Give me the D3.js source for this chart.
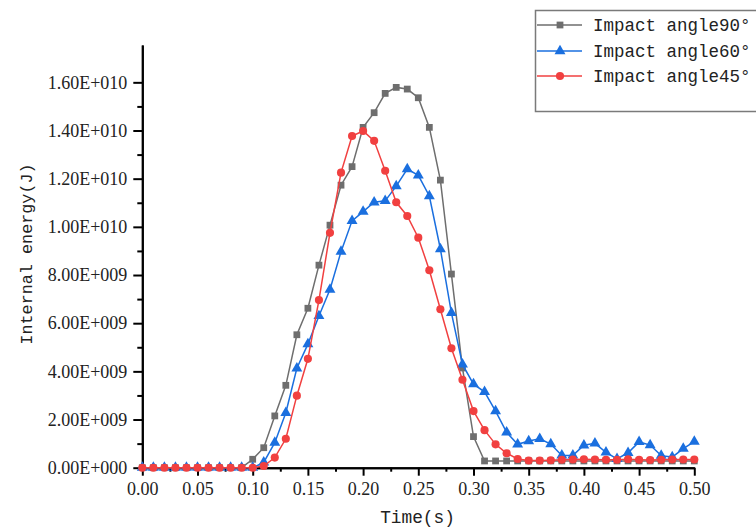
<!DOCTYPE html>
<html>
<head>
<meta charset="utf-8">
<script src="https://cdn.jsdelivr.net/npm/d3@7"></script>
<style>
  body { margin: 0; background: #fff; }
  svg text { font-family: "Liberation Mono", monospace; fill: #222; }
</style>
</head>
<body>
<svg id="chart" width="756" height="531"></svg>
<script>
// time steps 0.00 .. 0.50
var times = d3.range(51).map(i => +(i * 0.01).toFixed(2));

var seriesNames = ["Impact angle90°", "Impact angle60°", "Impact angle45°"];

var angle90 = [0,0,0,0,0,0,0,0,0,0,
  3.5e8, 8.3e8, 2.15e9, 3.42e9, 5.52e9, 6.62e9, 8.41e9, 1.007e10, 1.173e10, 1.25e10,
  1.413e10, 1.474e10, 1.554e10, 1.579e10, 1.572e10, 1.536e10, 1.413e10, 1.194e10, 8.04e9, 4.14e9,
  1.29e9, 2.8e8, 2.8e8, 2.8e8, 2.8e8, 2.8e8, 2.8e8, 2.8e8, 2.8e8, 2.8e8,
  2.8e8, 2.8e8, 2.8e8, 2.8e8, 2.8e8, 2.8e8, 2.8e8, 2.8e8, 2.8e8, 2.8e8, 2.8e8];

var angle60 = [0,0,0,0,0,0,0,0,0,0,0,
  2.2e8, 1.04e9, 2.28e9, 4.13e9, 5.13e9, 6.3e9, 7.4e9, 8.97e9, 1.025e10,
  1.063e10, 1.102e10, 1.108e10, 1.169e10, 1.24e10, 1.214e10, 1.128e10, 9.08e9, 6.43e9, 4.29e9,
  3.47e9, 3.15e9, 2.35e9, 1.47e9, 9.7e8, 1.11e9, 1.2e9, 9.8e8, 5.1e8, 5.1e8,
  9.3e8, 1.01e9, 6.4e8, 3.7e8, 6.2e8, 1.07e9, 9.4e8, 5.0e8, 4.4e8, 7.9e8, 1.08e9];

var angle45 = [0,0,0,0,0,0,0,0,0,0,0,
  7e7, 4.2e8, 1.2e9, 2.99e9, 4.52e9, 6.96e9, 9.75e9, 1.225e10, 1.377e10,
  1.398e10, 1.357e10, 1.233e10, 1.102e10, 1.045e10, 9.55e9, 8.2e9, 6.58e9, 4.96e9, 3.65e9,
  2.35e9, 1.56e9, 9.7e8, 6.0e8, 3.6e8, 3.0e8, 3.0e8, 3.1e8, 3.3e8, 3.4e8,
  3.5e8, 3.4e8, 3.3e8, 3.3e8, 3.5e8, 3.3e8, 3.2e8, 3.3e8, 3.4e8, 3.4e8, 3.4e8];

var xTickValues = [0, 0.05, 0.10, 0.15, 0.20, 0.25, 0.30, 0.35, 0.40, 0.45, 0.50];
var xTickLabels = ["0.00","0.05","0.10","0.15","0.20","0.25","0.30","0.35","0.40","0.45","0.50"];
var yTickValues = [0, 2e9, 4e9, 6e9, 8e9, 1e10, 1.2e10, 1.4e10, 1.6e10];
var yTickLabels = ["0.00E+000","2.00E+009","4.00E+009","6.00E+009","8.00E+009",
  "1.00E+010","1.20E+010","1.40E+010","1.60E+010"];

var colors = ["#6e6e6e", "#1a6fdf", "#f14040"];
var symbols = [d3.symbolSquare, d3.symbolTriangle, d3.symbolCircle];
var symSizes = [46, 52, 52];

var svg = d3.select("#chart");

var x = d3.scaleLinear().domain([0, 0.5]).range([142.3, 694.3]);
var y = d3.scaleLinear().domain([0, 1.755e10]).range([467.7, 45]);

// axes
var xAxis = d3.axisBottom(x).tickValues(xTickValues)
  .tickFormat((d, i) => xTickLabels[i]).tickSize(8).tickPadding(4).tickSizeOuter(0);
var xMinor = d3.axisBottom(x).tickValues(d3.range(0.025, 0.5, 0.05))
  .tickFormat("").tickSize(4).tickSizeOuter(0);
var yAxis = d3.axisLeft(y).tickValues(yTickValues)
  .tickFormat((d, i) => yTickLabels[i]).tickSize(9).tickPadding(6).tickSizeOuter(0);
var yMinor = d3.axisLeft(y).tickValues(d3.range(1e9, 1.6e10, 2e9))
  .tickFormat("").tickSize(5).tickSizeOuter(0);

function styleAxis(g) {
  g.select(".domain").attr("stroke", "#000").attr("stroke-width", 2);
  g.selectAll(".tick line").attr("stroke", "#000").attr("stroke-width", 2);
  g.selectAll(".tick text")
    .style("font-family", "'Liberation Serif', serif")
    .style("font-size", "18px").attr("fill", "#222");
}

var gx = svg.append("g").attr("transform", "translate(0," + y(0) + ")");
gx.call(xAxis).call(styleAxis);
gx.selectAll(".tick text").attr("dy", "0.85em");
svg.append("g").attr("transform", "translate(0," + y(0) + ")").call(xMinor).call(styleAxis);

var gy = svg.append("g").attr("transform", "translate(" + x(0) + ",0)");
gy.call(yAxis).call(styleAxis);
svg.append("g").attr("transform", "translate(" + x(0) + ",0)").call(yMinor).call(styleAxis);

// axis titles
svg.append("text")
  .attr("x", 417.5).attr("y", 523)
  .attr("text-anchor", "middle")
  .style("font-size", "17.8px")
  .text("Time(s)");

svg.append("text")
  .attr("transform", "translate(32,254) rotate(-90)")
  .attr("text-anchor", "middle")
  .style("font-size", "16.8px")
  .text("Internal energy(J)");

// series
var allSeries = [angle90, angle60, angle45];
var line = d3.line().x((d, i) => x(times[i])).y(d => y(d));

allSeries.forEach(function(vals, s) {
  var g = svg.append("g");
  g.append("path")
    .datum(vals)
    .attr("fill", "none")
    .attr("stroke", colors[s])
    .attr("stroke-width", 1.5)
    .attr("d", line);
  g.selectAll("path.mk")
    .data(vals)
    .enter().append("path")
    .attr("class", "mk")
    .attr("d", d3.symbol().type(symbols[s]).size(symSizes[s]))
    .attr("transform", (d, i) => "translate(" + x(times[i]) + "," + y(d) + ")")
    .attr("fill", colors[s]);
});

// legend
var legend = svg.append("g");
legend.append("rect")
  .attr("x", 535.5).attr("y", 10.5)
  .attr("width", 240).attr("height", 101)
  .attr("fill", "#fff")
  .attr("stroke", "#7a7a7a")
  .attr("stroke-width", 1.5);

var rowY = [25, 51, 76];
seriesNames.forEach(function(name, s) {
  legend.append("line")
    .attr("x1", 537).attr("x2", 582)
    .attr("y1", rowY[s]).attr("y2", rowY[s])
    .attr("stroke", colors[s]).attr("stroke-width", 1.5);
  legend.append("path")
    .attr("d", d3.symbol().type(symbols[s]).size(symSizes[s]))
    .attr("transform", "translate(560," + rowY[s] + ")")
    .attr("fill", colors[s]);
  legend.append("text")
    .attr("x", 593).attr("y", rowY[s])
    .attr("dy", "0.35em")
    .style("font-size", "17.5px")
    .text(name);
});
</script>
</body>
</html>
